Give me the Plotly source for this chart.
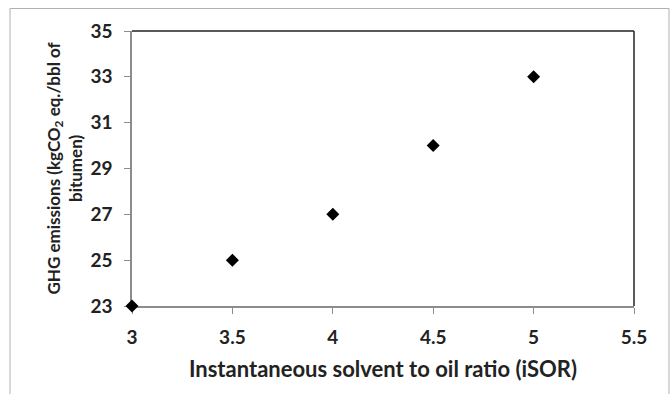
import plotly.graph_objects as go

isor = [3, 3.5, 4, 4.5, 5]
ghg = [23, 25, 27, 30, 33]
x_ticks = [3, 3.5, 4, 4.5, 5, 5.5]
y_ticks = [23, 25, 27, 29, 31, 33, 35]
y_title = "GHG emissions (kgCO<sub>2</sub> eq./bbl of<br>bitumen)"
x_title = "Instantaneous solvent to oil ratio (iSOR)"

FONT = "Lato"
fig = go.Figure()
fig.add_trace(go.Scatter(
    x=isor, y=ghg, mode="markers",
    marker=dict(symbol="diamond", size=10, color="#000000"),
    cliponaxis=False, showlegend=False,
))

W, H = 670, 394
L, R, T, B = 132, 36, 31, 88
pw, ph = W - L - R, H - T - B

def px(x):
    return (x - L) / pw

def py(y):
    return (H - B - y) / ph

fig.update_layout(
    width=W, height=H,
    margin=dict(l=L, r=R, t=T, b=B, autoexpand=False),
    paper_bgcolor="white", plot_bgcolor="white",
    font=dict(family=FONT, color="#222222"),
    xaxis=dict(
        range=[3, 5.5], tickvals=x_ticks, ticktext=[str(v) for v in x_ticks],
        showgrid=False, zeroline=False, layer="below traces",
        showline=True, linecolor="#8c8c8c", linewidth=1.5,
        ticks="outside", ticklen=6, tickcolor="#8c8c8c",
        tickfont=dict(size=19, family=FONT, color="#222222", weight="bold"),
        ticklabelstandoff=7,
        title=dict(text=x_title,
                   font=dict(size=22, family=FONT, color="#222222", weight="bold"),
                   standoff=15),
    ),
    yaxis=dict(
        range=[23, 35], tickvals=y_ticks, ticktext=[str(v) for v in y_ticks],
        showgrid=False, zeroline=False, layer="below traces",
        showline=True, linecolor="#8c8c8c", linewidth=1.5,
        ticks="outside", ticklen=6, tickcolor="#8c8c8c",
        tickfont=dict(size=19, family=FONT, color="#222222", weight="bold"),
        ticklabelstandoff=8,
    ),
    annotations=[
        dict(text=y_title, xref="paper", yref="paper", x=px(64), y=0.5,
             xanchor="center", yanchor="middle", textangle=-90, showarrow=False,
             font=dict(size=17, family=FONT, color="#222222", weight="bold")),
    ],
    shapes=[
        dict(type="line", xref="paper", yref="paper", x0=0, x1=1, y0=1, y1=1,
             line=dict(color="#222222", width=1.5)),
        dict(type="line", xref="paper", yref="paper", x0=1, x1=1, y0=0, y1=1,
             line=dict(color="#222222", width=1.5)),
        dict(type="rect", xref="paper", yref="paper",
             x0=px(10), x1=px(669), y0=py(400), y1=py(8.5),
             line=dict(color="#b0b0b0", width=1), layer="below"),
    ],
)

fig.write_html("out.html", config={"displayModeBar": False},
               post_script="document.body.style.margin='0';document.body.style.padding='0';")
